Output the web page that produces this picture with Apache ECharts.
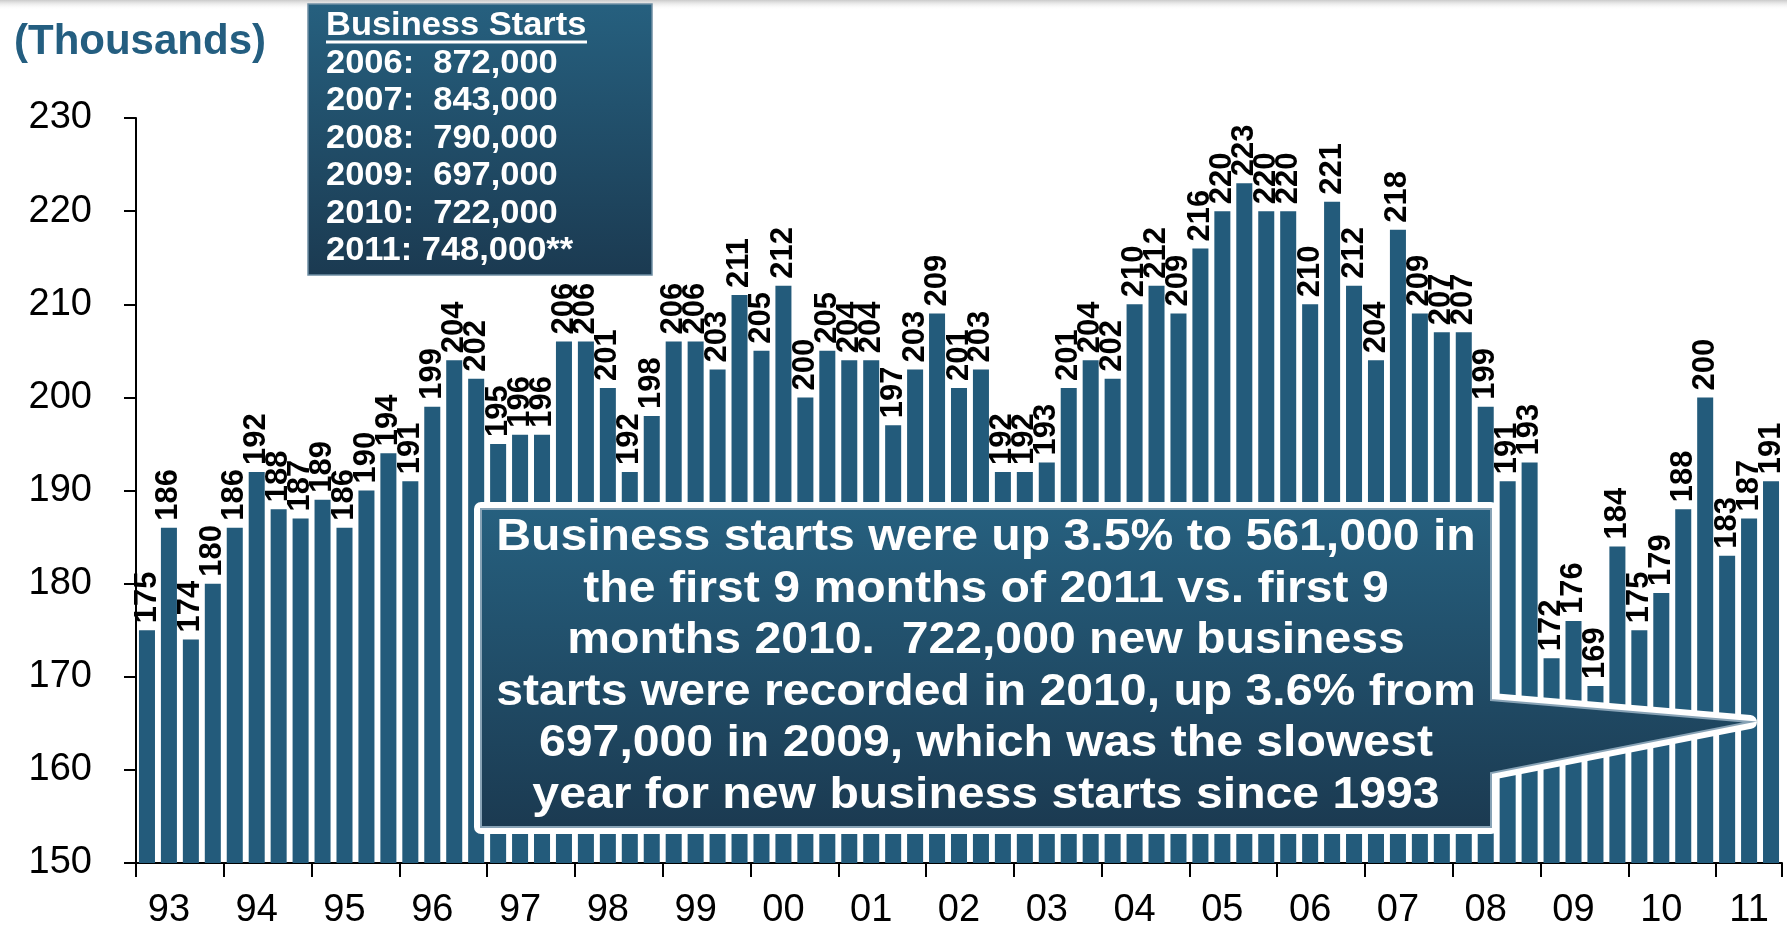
<!DOCTYPE html>
<html>
<head>
<meta charset="utf-8">
<title>Business Starts</title>
<script src="https://cdn.jsdelivr.net/npm/echarts@6/dist/echarts.min.js"></script>
<style>
  html, body { margin: 0; padding: 0; background: #fff; }
  #chart { width: 1787px; height: 930px; }
</style>
</head>
<body>
<div id="chart"></div>
<script>
// Quarterly business starts, thousands (1993 Q1 - 2011 Q3)
const years = ['93','94','95','96','97','98','99','00','01','02','03','04','05','06','07','08','09','10','11'];
const quarters = ['Q1','Q2','Q3','Q4'];
const starts = [
  175, 186, 174, 180,   // 93
  186, 192, 188, 187,   // 94
  189, 186, 190, 194,   // 95
  191, 199, 204, 202,   // 96
  195, 196, 196, 206,   // 97
  206, 201, 192, 198,   // 98
  206, 206, 203, 211,   // 99
  205, 212, 200, 205,   // 00
  204, 204, 197, 203,   // 01
  209, 201, 203, 192,   // 02
  192, 193, 201, 204,   // 03
  202, 210, 212, 209,   // 04
  216, 220, 223, 220,   // 05
  220, 210, 221, 212,   // 06
  204, 218, 209, 207,   // 07
  207, 199, 191, 193,   // 08
  172, 176, 169, 184,   // 09
  175, 179, 188, 200,   // 10
  183, 187, 191         // 11
];
const yTicks = { min: 150, max: 230, step: 10 };

// Annual totals shown in the summary box
const annualYears = ['2006', '2007', '2008', '2009', '2010', '2011'];
const annualTotals = ['872,000', '843,000', '790,000', '697,000', '722,000', '748,000**'];

const calloutLines = [
  'Business starts were up 3.5% to 561,000 in',
  'the first 9 months of 2011 vs. first 9',
  'months 2010.  722,000 new business',
  'starts were recorded in 2010, up 3.6% from',
  '697,000 in 2009, which was the slowest',
  'year for new business starts since 1993'
];

const categories = starts.map((v, i) => years[Math.floor(i / 4)] + quarters[i % 4]);

const FONT = '"Liberation Sans", Arial, Helvetica, sans-serif';
const BAR = '#235b7b';

const boxLines = annualYears.map((y, i) => y + ':' + (annualTotals[i].length > 7 ? ' ' : '  ') + annualTotals[i]);

function panelGradient() {
  return new echarts.graphic.LinearGradient(0, 0, 0, 1, [
    { offset: 0, color: '#26607f' },
    { offset: 1, color: '#1b3a51' }
  ]);
}

// Callout outline: box with an arrow pointing at the latest quarters
const callout = [
  [481, 509], [1491, 509], [1491, 700], [1750, 722],
  [1491, 773], [1491, 827], [481, 827]
];

const chart = echarts.init(document.getElementById('chart'), null, { renderer: 'canvas' });

chart.setOption({
  backgroundColor: '#ffffff',
  animation: false,
  grid: { left: 136, right: 5, top: 118, bottom: 66, containLabel: false },
  xAxis: {
    type: 'category',
    data: categories,
    boundaryGap: true,
    axisLine: { show: true, lineStyle: { color: '#000', width: 2 } },
    axisTick: {
      show: true,
      length: 14,
      interval: (index) => index % 4 === 0,
      lineStyle: { color: '#000', width: 2 }
    },
    axisLabel: {
      interval: (index) => index % 4 === 1,
      formatter: (value) => value.slice(0, 2),
      fontFamily: FONT,
      fontSize: 38,
      color: '#000',
      margin: 29
    },
    splitLine: { show: false }
  },
  yAxis: {
    type: 'value',
    min: yTicks.min,
    max: yTicks.max,
    interval: yTicks.step,
    name: '(Thousands)',
    nameLocation: 'end',
    nameGap: 76,
    nameTextStyle: {
      fontFamily: FONT,
      fontSize: 42,
      fontWeight: 'bold',
      color: '#245e80',
      align: 'center',
      verticalAlign: 'middle',
      padding: [0, 0, 0, 8]
    },
    axisLine: { show: true, lineStyle: { color: '#000', width: 2 } },
    axisTick: { show: true, length: 12, lineStyle: { color: '#000', width: 2 } },
    axisLabel: { fontFamily: FONT, fontSize: 38, color: '#000', margin: 44 },
    splitLine: { show: false }
  },
  series: [{
    type: 'bar',
    data: starts,
    barCategoryGap: '27%',
    itemStyle: { color: BAR },
    label: {
      show: true,
      position: 'top',
      rotate: 90,
      align: 'left',
      verticalAlign: 'middle',
      distance: 7,
      fontFamily: FONT,
      fontSize: 31,
      fontWeight: 'bold',
      color: '#000'
    },
    z: 2
  }],
  graphic: {
    elements: [
      // soft header shadow along the top edge
      {
        type: 'rect', z: 50,
        shape: { x: 0, y: 0, width: 1787, height: 10 },
        style: {
          fill: new echarts.graphic.LinearGradient(0, 0, 0, 1, [
            { offset: 0, color: 'rgba(185,185,185,0.75)' },
            { offset: 1, color: 'rgba(255,255,255,0)' }
          ])
        }
      },
      // annual totals panel
      {
        type: 'rect', z: 100,
        shape: { x: 308, y: 4, width: 344, height: 271 },
        style: { fill: panelGradient(), stroke: '#6f8ea4', lineWidth: 1.5 }
      },
      {
        type: 'text', z: 101,
        x: 326, y: 26, scaleX: 1.06,
        style: {
          x: 0, y: 0,
          text: 'Business Starts',
          fill: '#fff',
          font: 'bold 32.5px ' + FONT,
          align: 'left', verticalAlign: 'middle'
        }
      },
      {
        type: 'line', z: 101,
        shape: { x1: 326, y1: 42, x2: 587, y2: 42 },
        style: { stroke: '#fff', lineWidth: 3 }
      },
      {
        type: 'text', z: 101,
        x: 326, y: 157.5, scaleX: 1.06,
        style: {
          x: 0, y: 0,
          text: boxLines.join('\n'),
          fill: '#fff',
          font: 'bold 32.5px ' + FONT,
          lineHeight: 37.5,
          align: 'left', verticalAlign: 'middle'
        }
      },
      // callout: white halo, then gradient body
      {
        type: 'polygon', z: 110,
        shape: { points: callout },
        style: { fill: '#fff', stroke: '#fff', lineWidth: 14, lineJoin: 'round' }
      },
      {
        type: 'polygon', z: 111,
        shape: { points: callout },
        style: { fill: panelGradient(), stroke: '#88a3b6', lineWidth: 2, lineJoin: 'miter' }
      },
      {
        type: 'text', z: 112,
        x: 986, y: 666.5, scaleX: 1.07,
        style: {
          x: 0, y: 0,
          text: calloutLines.join('\n'),
          fill: '#fff',
          font: 'bold 45px ' + FONT,
          lineHeight: 51.6,
          align: 'center', verticalAlign: 'middle'
        }
      }
    ]
  }
});
</script>
</body>
</html>
